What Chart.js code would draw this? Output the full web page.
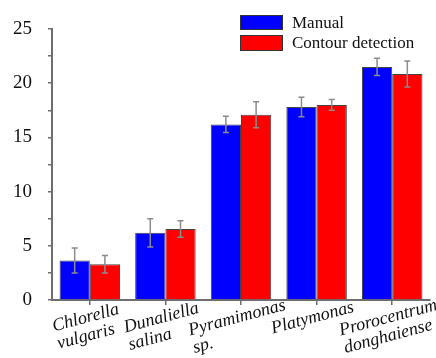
<!DOCTYPE html>
<html>
<head>
<meta charset="utf-8">
<script src="https://cdn.jsdelivr.net/npm/chart.js@4/dist/chart.umd.min.js"></script>
<style>
  html, body { margin: 0; padding: 0; background: #fff; }
  canvas { display: block; }
</style>
</head>
<body>
<canvas id="grafico" width="436" height="358"></canvas>
<script>
// Categorias (nomes das espécies, em linhas)
const categorias = [
    ['Chlorella', 'vulgaris'],
    ['Dunaliella', 'salina'],
    ['Pyramimonas', 'sp.'],
    ['Platymonas'],
    ['Prorocentrum', 'donghaiense']
];

// Séries e barras de erro
const nomesSeries = ['Manual', 'Contour detection'];
const valoresManual = [3.65, 6.2, 16.2, 17.8, 21.5];
const errosManual = [1.15, 1.3, 0.75, 0.9, 0.8];
const valoresContorno = [3.3, 6.55, 17.1, 18.0, 20.85];
const errosContorno = [0.8, 0.75, 1.2, 0.5, 1.2];

const eixoMin = 0;
const eixoMax = 25;
const passoEixo = 2.5;

const corAzul = '#0000ff';
const corVermelho = '#ff0000';
const corEixo = '#6e6e6e';
const fonteSerif = '"Liberation Serif", "DejaVu Serif", serif';

// Plugin para barras de erro
const pluginErros = {
    id: 'barrasErro',
    afterDatasetsDraw(chart) {
        const ctx = chart.ctx;
        const y = chart.scales.y;
        ctx.save();
        ctx.strokeStyle = '#8c8c8c';
        ctx.lineWidth = 1.5;
        chart.data.datasets.forEach((ds, di) => {
            const meta = chart.getDatasetMeta(di);
            meta.data.forEach((barra, i) => {
                const v = ds.data[i];
                const e = ds.erros[i];
                const yTopo = y.getPixelForValue(v + e);
                const yBase = y.getPixelForValue(v - e);
                ctx.beginPath();
                ctx.moveTo(barra.x, yTopo);
                ctx.lineTo(barra.x, yBase);
                ctx.moveTo(barra.x - 3, yTopo);
                ctx.lineTo(barra.x + 3, yTopo);
                ctx.moveTo(barra.x - 3, yBase);
                ctx.lineTo(barra.x + 3, yBase);
                ctx.stroke();
            });
        });
        ctx.restore();
    }
};

// Plugin para rótulos inclinados e legenda
const pluginTextos = {
    id: 'textos',
    afterDraw(chart) {
        const ctx = chart.ctx;
        const x = chart.scales.x;
        ctx.save();
        ctx.fillStyle = '#111';
        ctx.font = 'italic 18px ' + fonteSerif;
        ctx.textBaseline = 'middle';
        categorias.forEach((linhas, i) => {
            const px = x.getPixelForValue(i) - 4;
            const w1 = ctx.measureText(linhas[0]).width;
            ctx.save();
            ctx.translate(px, 318);
            ctx.rotate(-15 * Math.PI / 180);
            ctx.textAlign = 'left';
            linhas.forEach((linha, j) => {
                ctx.fillText(linha, -w1 / 2, j * 18);
            });
            ctx.restore();
        });

        // Legenda
        const cores = [corAzul, corVermelho];
        const caixas = [[240, 15, 43, 15], [240, 35, 43, 16]];
        ctx.font = '17px ' + fonteSerif;
        ctx.textAlign = 'left';
        nomesSeries.forEach((nome, i) => {
            const c = caixas[i];
            ctx.fillStyle = cores[i];
            ctx.fillRect(c[0], c[1], c[2], c[3]);
            ctx.strokeStyle = '#333';
            ctx.lineWidth = 1;
            ctx.strokeRect(c[0] + 0.5, c[1] + 0.5, c[2] - 1, c[3] - 1);
            ctx.fillStyle = '#111';
            ctx.fillText(nome, 292, c[1] + c[3] / 2 + 1);
        });
        ctx.restore();
    }
};

const ctxGrafico = document.getElementById('grafico').getContext('2d');
new Chart(ctxGrafico, {
    type: 'bar',
    data: {
        labels: categorias.map(c => c.join(' ')),
        datasets: [{
            label: nomesSeries[0],
            data: valoresManual,
            erros: errosManual,
            backgroundColor: corAzul,
            borderColor: '#444',
            borderWidth: 1,
            categoryPercentage: 0.8,
            barPercentage: 1.0
        }, {
            label: nomesSeries[1],
            data: valoresContorno,
            erros: errosContorno,
            backgroundColor: corVermelho,
            borderColor: '#444',
            borderWidth: 1,
            categoryPercentage: 0.8,
            barPercentage: 1.0
        }]
    },
    options: {
        responsive: false,
        animation: false,
        layout: { padding: { top: 29, right: 6, left: 0, bottom: 0 } },
        plugins: {
            legend: { display: false },
            tooltip: { enabled: false }
        },
        scales: {
            x: {
                grid: {
                    display: true,
                    offset: false,
                    drawOnChartArea: false,
                    drawTicks: true,
                    tickLength: 5,
                    color: corEixo,
                    lineWidth: 1.5
                },
                border: { color: corEixo, width: 2 },
                ticks: { callback: () => '', maxRotation: 0 },
                afterFit(escala) { escala.height = 58; }
            },
            y: {
                min: eixoMin,
                max: eixoMax,
                grid: {
                    drawOnChartArea: false,
                    drawTicks: true,
                    tickLength: 4,
                    color: corEixo,
                    lineWidth: 1.5
                },
                border: { color: corEixo, width: 2 },
                ticks: {
                    stepSize: passoEixo,
                    padding: 16,
                    color: '#111',
                    font: { family: fonteSerif, size: 19 },
                    callback: v => (v % 5 === 0 ? v : '')
                },
                afterFit(escala) { escala.width = 52; }
            }
        }
    },
    plugins: [pluginErros, pluginTextos]
});
</script>
</body>
</html>
